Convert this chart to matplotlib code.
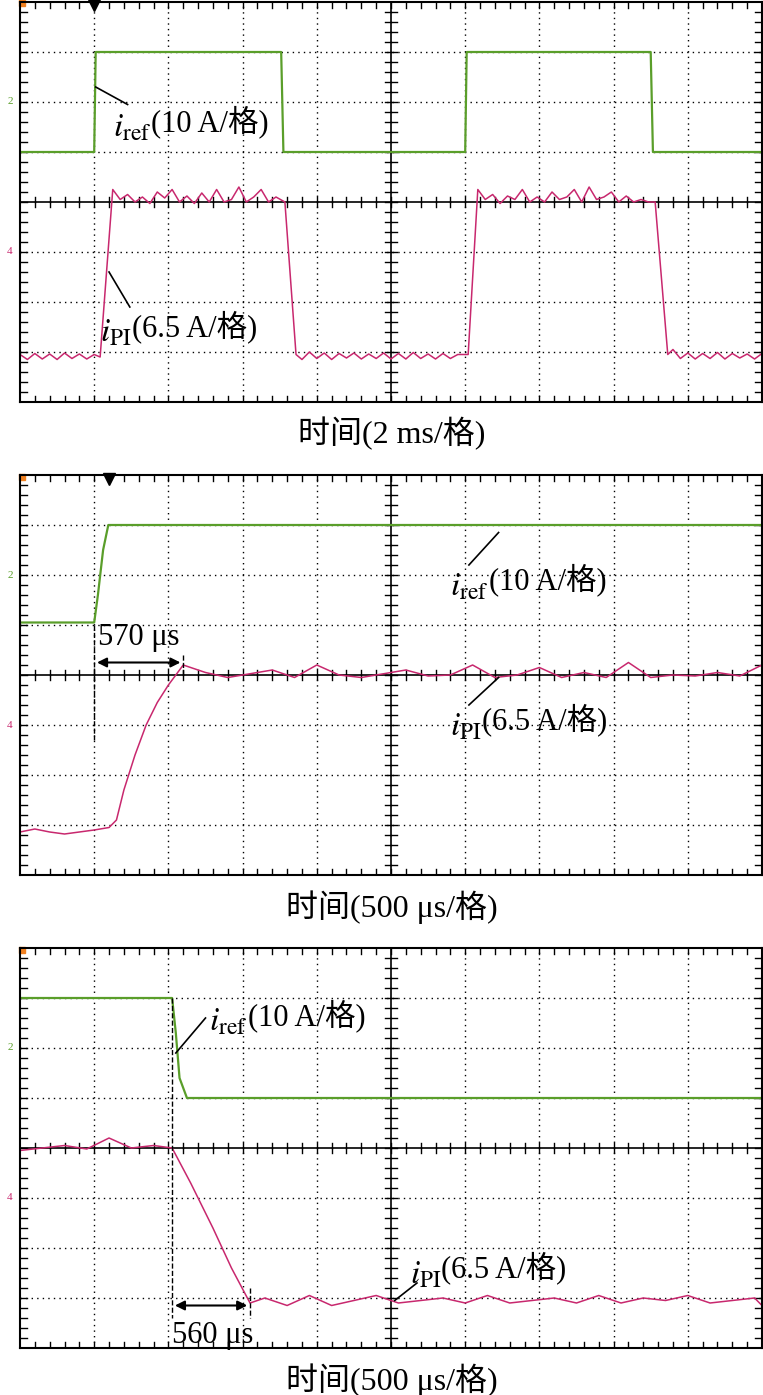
import numpy as np
import matplotlib
matplotlib.use('Agg')
import matplotlib.pyplot as plt

plt.rcParams['font.family'] = ['Liberation Serif', 'Noto Sans CJK SC']
plt.rcParams['mathtext.fontset'] = 'stix'

GREEN = '#5a9e2a'
RED = '#c8286e'

# traces in scope divisions (x 0..10, y 0..8)
p1_ref_x = [0, 1.0, 1.02, 3.52, 3.55, 6.0, 6.02, 8.5, 8.53, 10]
p1_ref_y = [5, 5, 7, 7, 5, 5, 7, 7, 5, 5]
p1_pi_x = [0, 0.1, 0.2, 0.3, 0.4, 0.5, 0.6, 0.7, 0.8, 0.9, 1.0, 1.08, 1.25, 1.35, 1.45, 1.55, 1.65, 1.75,
           1.85, 1.95, 2.05, 2.15, 2.25, 2.35, 2.45, 2.55, 2.65, 2.75, 2.85, 2.95, 3.05, 3.15, 3.25,
           3.35, 3.45, 3.57, 3.72, 3.8, 3.9, 4.0, 4.1, 4.2, 4.3, 4.4, 4.5, 4.6, 4.7, 4.8, 4.9, 5.0,
           5.1, 5.2, 5.3, 5.4, 5.5, 5.6, 5.7, 5.8, 5.9, 6.04, 6.17, 6.27, 6.37, 6.47, 6.57, 6.67,
           6.77, 6.87, 6.97, 7.07, 7.17, 7.27, 7.37, 7.47, 7.57, 7.67, 7.77, 7.87, 7.97, 8.07, 8.17,
           8.27, 8.37, 8.47, 8.56, 8.73, 8.8, 8.9, 9.0, 9.1, 9.2, 9.3, 9.4, 9.5, 9.6, 9.7, 9.8, 9.9, 10]
p1_pi_y = [0.95, 0.85, 0.97, 0.86, 0.96, 0.85, 0.98, 0.87, 0.96, 0.86, 0.95, 0.9, 4.25, 4.05, 4.15, 4.0,
           4.1, 3.97, 4.2, 4.08, 4.25, 4.0, 4.12, 3.97, 4.18, 4.0, 4.25, 4.0, 4.05, 4.3, 4.0, 4.1, 4.25,
           4.0, 4.1, 4.0, 0.95, 0.85, 1.0, 0.87, 0.98, 0.85, 0.97, 0.88, 0.98, 0.86, 0.96, 0.87, 0.98,
           0.86, 0.97, 0.86, 0.99, 0.87, 0.96, 0.86, 0.97, 0.87, 0.95, 0.95, 4.25, 4.05, 4.15, 3.97,
           4.12, 4.05, 4.25, 4.0, 4.1, 4.0, 4.2, 4.05, 4.1, 4.25, 4.0, 4.3, 4.05, 4.1, 4.2, 4.0,
           4.12, 4.0, 4.05, 4.0, 4.0, 0.95, 1.05, 0.87, 0.98, 0.86, 0.97, 0.87, 0.99, 0.86, 0.97,
           0.88, 0.96, 0.86, 0.97]

p2_ref_x = [0, 1.0, 1.05, 1.12, 1.19, 10]
p2_ref_y = [5.05, 5.05, 5.6, 6.5, 7, 7]
p2_pi_x = [0, 0.2, 0.4, 0.6, 0.8, 1.0, 1.2, 1.3, 1.4, 1.55, 1.7, 1.85, 2.0, 2.1, 2.2, 2.5, 2.8, 3.0,
           3.4, 3.7, 4.0, 4.3, 4.6, 5.0, 5.2, 5.5, 5.8, 6.1, 6.4, 6.7, 7.0, 7.3, 7.6, 7.9, 8.2, 8.5,
           8.8, 9.1, 9.4, 9.7, 10]
p2_pi_y = [0.86, 0.92, 0.86, 0.82, 0.86, 0.9, 0.95, 1.1, 1.7, 2.4, 3.0, 3.45, 3.8, 4.0, 4.2, 4.05,
           3.95, 4.0, 4.1, 3.95, 4.2, 4.0, 3.95, 4.05, 4.1, 3.98, 4.0, 4.2, 3.95, 4.0, 4.15, 3.95,
           4.05, 3.95, 4.25, 3.95, 4.0, 3.98, 4.05, 3.98, 4.2]

p3_ref_x = [0, 2.05, 2.1, 2.15, 2.25, 10]
p3_ref_y = [7, 7, 6.3, 5.4, 5, 5]
p3_pi_x = [0, 0.3, 0.6, 0.9, 1.2, 1.5, 1.8, 2.05, 2.3, 2.6, 2.85, 3.1, 3.3, 3.6, 3.9, 4.2, 4.5, 4.8,
           5.1, 5.4, 5.7, 6.0, 6.3, 6.6, 6.9, 7.2, 7.5, 7.8, 8.1, 8.4, 8.7, 9.0, 9.3, 9.6, 9.9, 10]
p3_pi_y = [3.95, 4.0, 4.05, 3.98, 4.2, 4.0, 4.05, 4.0, 3.3, 2.4, 1.6, 0.9, 1.0, 0.85, 1.05, 0.85,
           0.95, 1.05, 0.9, 0.95, 1.0, 0.9, 1.05, 0.9, 0.95, 1.0, 0.9, 1.05, 0.9, 1.0, 0.95, 1.05,
           0.9, 0.95, 1.0, 0.85]

captions = ['时间(2 ms/格)', '时间(500 μs/格)', '时间(500 μs/格)']
triggers = [1.0, 1.2, None]

W, H = 763, 1395
fig = plt.figure(figsize=(W / 100, H / 100), dpi=100)
tops = [2, 475, 948]


def to_fig(px, py):
    return px / W, 1 - py / H


axes = []
for top in tops:
    l, b = to_fig(20, top + 400)
    ax = fig.add_axes([l, b, 742 / W, 400 / H])
    ax.set_xlim(0, 10)
    ax.set_ylim(0, 8)
    ax.set_xticks([])
    ax.set_yticks([])
    for s in ax.spines.values():
        s.set_linewidth(1.5)
    for gx in range(1, 10):
        if gx != 5:
            ax.axvline(gx, color='k', ls=(0, (1, 3)), lw=1)
    for gy in range(1, 8):
        if gy != 4:
            ax.axhline(gy, color='k', ls=(0, (1, 3)), lw=1)
    ax.axvline(5, color='k', lw=1.2)
    ax.axhline(4, color='k', lw=1.2)
    for t in np.arange(0.2, 10, 0.2):
        for yc, d in [(8, -0.12), (0, 0.12), (4, 0.1), (4, -0.1)]:
            ax.plot([t, t], [yc, yc + d], color='k', lw=1)
    for t in np.arange(0.2, 8, 0.2):
        for xc, d in [(0, 0.1), (10, -0.1), (5, 0.08), (5, -0.08)]:
            ax.plot([xc, xc + d], [t, t], color='k', lw=1)
    axes.append(ax)

for ax, (rx, ry, px_, py_) in zip(axes, [(p1_ref_x, p1_ref_y, p1_pi_x, p1_pi_y),
                                        (p2_ref_x, p2_ref_y, p2_pi_x, p2_pi_y),
                                        (p3_ref_x, p3_ref_y, p3_pi_x, p3_pi_y)]):
    ax.plot(rx, ry, color=GREEN, lw=1.6)
    ax.plot(px_, py_, color=RED, lw=1.1)

for ax, trig, top, cap in zip(axes, triggers, tops, captions):
    if trig is not None:
        ax.plot(trig, 7.93, marker='v', color='k', ms=8, clip_on=False)
    ax.plot(0.03, 7.97, marker='s', color='#f08020', ms=4, clip_on=False)
    fig.text(*to_fig(10, top + 100), '2', color=GREEN, fontsize=8, ha='center', va='center')
    fig.text(*to_fig(10, top + 250), '4', color=RED, fontsize=8, ha='center', va='center')
    fig.text(*to_fig(392, top + 432), cap, fontsize=23, ha='center', va='center')

fs = 22


def label(ax, x, y, sub, rest):
    t = ax.text(x, y, r'$i_{\rm %s}$' % sub, fontsize=fs + 2, va='baseline')
    ax.annotate(rest, xy=(1, 0), xycoords=t, xytext=(0, 4), textcoords='offset points',
                fontsize=fs, va='bottom')


# panel 1
a = axes[0]
a.plot([1.02, 1.45], [6.3, 5.95], color='k', lw=1.2)
label(a, 1.25, 5.3, 'ref', '(10 A/格)')
a.plot([1.2, 1.48], [2.6, 1.9], color='k', lw=1.2)
label(a, 1.08, 1.2, 'PI', '(6.5 A/格)')

# panel 2
a = axes[1]
a.plot([6.45, 6.05], [6.85, 6.2], color='k', lw=1.2)
label(a, 5.8, 5.6, 'ref', '(10 A/格)')
a.plot([6.45, 6.05], [3.95, 3.4], color='k', lw=1.2)
label(a, 5.8, 2.8, 'PI', '(6.5 A/格)')
a.plot([1.0, 1.0], [5.0, 2.7], color='k', ls='--', lw=1)
a.plot([2.2, 2.2], [4.4, 4.0], color='k', ls='--', lw=1)
a.annotate('', xy=(1.0, 4.25), xytext=(2.2, 4.25),
           arrowprops=dict(arrowstyle='<|-|>', color='k', lw=1.5, mutation_scale=14))
a.text(1.05, 4.75, '570 μs', fontsize=fs, va='center')

# panel 3
a = axes[2]
a.plot([2.1, 2.5], [5.9, 6.6], color='k', lw=1.2)
label(a, 2.55, 6.35, 'ref', '(10 A/格)')
a.plot([2.05, 2.05], [7.0, 0.6], color='k', ls='--', lw=1)
a.plot([3.1, 3.1], [1.2, 0.6], color='k', ls='--', lw=1)
a.annotate('', xy=(2.05, 0.85), xytext=(3.1, 0.85),
           arrowprops=dict(arrowstyle='<|-|>', color='k', lw=1.5, mutation_scale=14))
a.text(2.05, 0.25, '560 μs', fontsize=fs, va='center')
a.plot([5.05, 5.35], [0.95, 1.3], color='k', lw=1.2)
label(a, 5.25, 1.3, 'PI', '(6.5 A/格)')

fig.savefig('out.png', dpi=100)
